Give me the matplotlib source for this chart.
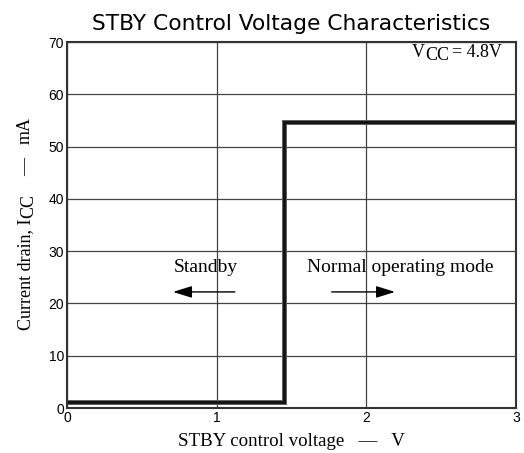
import matplotlib
matplotlib.use('Agg')
from matplotlib import pyplot as plt
from matplotlib.transforms import IdentityTransform

# supply current vs STBY pin voltage
stby_volts = [0.0, 1.45, 1.45, 3.0]
icc_ma = [1.1, 1.1, 54.7, 54.7]

x_ticks = [0, 1, 2, 3]
y_ticks = [0, 10, 20, 30, 40, 50, 60, 70]

serif = 'Liberation Serif'
sans = 'Liberation Sans'

fig = plt.figure(figsize=(5.24, 4.53), dpi=100)
ax = fig.add_axes([67/524, 1 - 408/453, 449/524, 366/453])
rend = fig.canvas.get_renderer()


def chain_text(x0, y0, pieces, vertical=False, **kw):
    # lay out text pieces one after another (pixel coords), each piece
    # is (string, drop below baseline, gap after) so subscripts stay full size
    pos = y0 if vertical else x0
    for s, drop, gap in pieces:
        if vertical:
            t = fig.text(x0 + drop, pos, s, rotation=90, rotation_mode='anchor',
                         ha='left', va='baseline', transform=IdentityTransform(), **kw)
            pos += t.get_window_extent(rend).height + gap
        else:
            t = fig.text(pos, y0 - drop, s, ha='left', va='baseline',
                         transform=IdentityTransform(), **kw)
            pos += t.get_window_extent(rend).width + gap


ax.set_xlim(0, 3)
ax.set_ylim(0, 70)
ax.set_xticks(x_ticks)
ax.set_yticks(y_ticks)
ax.tick_params(length=0, pad=2, labelsize=10)
for lab in ax.get_xticklabels() + ax.get_yticklabels():
    lab.set_fontfamily(sans)
ax.grid(True, color='#444444', linewidth=0.9)
ax.set_axisbelow(True)
for s in ax.spines.values():
    s.set_color('#333333')
    s.set_linewidth(1.5)

# the step, drawn twice for the doubled edge
ax.plot(stby_volts, icc_ma, color='#555555', linewidth=3.5, solid_joinstyle='miter')
ax.plot(stby_volts, icc_ma, color='#111111', linewidth=2.0, solid_joinstyle='miter')

ax.set_title('STBY Control Voltage Characteristics', fontsize=15.7,
             family='DejaVu Sans', pad=8.6)
ax.set_xlabel('STBY control voltage   —   V', fontsize=13.6, family=serif, labelpad=6)

# y label with full size subscript
chain_text(30, 453 - 330, [('Current drain, I', 0, 0), ('CC', 3, 18),
                           ('—', 0, 15), ('mA', 0, 0)],
           vertical=True, fontsize=13, family=serif)

# supply voltage note
chain_text(412, 453 - 57, [('V', 0, 0), ('CC', 3.5, 3), ('= 4.8V', 0, 0)],
           fontsize=13, family=serif)

ax.text(0.93, 26.8, 'Standby', fontsize=14, family=serif, ha='center', va='center')
ax.text(2.225, 26.8, 'Normal operating mode', fontsize=14, family=serif,
        ha='center', va='center')

arrow = dict(arrowstyle='-|>,head_length=1.15,head_width=0.36', color='black', lw=1.0)
ax.annotate('', xy=(0.69, 22.2), xytext=(1.14, 22.2), arrowprops=arrow)
ax.annotate('', xy=(2.21, 22.2), xytext=(1.75, 22.2), arrowprops=arrow)

fig.savefig('out.png', dpi=100)
